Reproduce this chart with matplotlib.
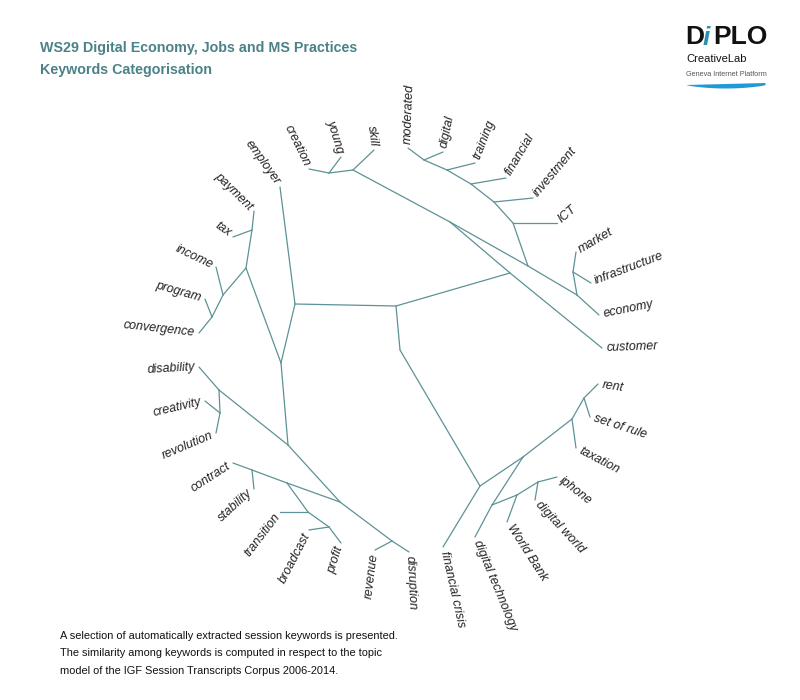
import numpy as np
import matplotlib
matplotlib.use('Agg')
import matplotlib.pyplot as plt

plt.rcParams['font.family'] = ['Liberation Sans', 'DejaVu Sans']

#------------------------------------------------------------------------------
#   Tree data (layout, pixel units)
#------------------------------------------------------------------------------
leaf_names = ['moderated', 'digital', 'training', 'financial', 'investment', 'ICT',
              'market', 'infrastructure', 'economy', 'customer', 'rent', 'set of rule',
              'taxation', 'iphone', 'digital world', 'World Bank', 'digital technology',
              'financial crisis', 'disruption', 'revenue', 'profit', 'broadcast',
              'transition', 'stability', 'contract', 'revolution', 'creativity',
              'disability', 'convergence', 'program', 'income', 'tax', 'payment',
              'employer', 'creation', 'young', 'skill']
leaf_x = [408, 443, 475, 506, 533, 557, 576, 591, 599, 602, 598, 590, 576, 557, 535,
          507, 475, 443, 409, 375, 341, 309, 280, 254, 233, 216, 205, 199, 199, 205,
          216, 233, 254, 280, 309, 341, 374]
leaf_y = [148, 152, 163, 178, 198, 223, 252, 283, 315, 348, 384, 417, 448, 477, 500,
          522, 537, 547, 552, 550, 543, 530, 512, 489, 463, 433, 401, 367, 333, 299,
          267, 237, 211, 187, 169, 157, 150]

node_names = ['A', 'B', 'B2', 'C', 'D', 'S', 'Y', 'F', 'G', 'H', 'M1', 'M2', 'M3', 'M4',
              'M5', 'K', 'P', 'Q', 'R', 'T', 'L', 'U', 'V', 'W', 'X1', 'X2', 'X3', 'X4',
              'Z', 'N1', 'N2', 'N3', 'N4', 'N5', 'N6', 'N7']
node_x = [295, 396, 400, 510, 450, 353, 329, 528, 577, 573, 424, 447, 471, 494, 513,
          281, 246, 252, 223, 212, 288, 219, 220, 340, 252, 287, 308, 329, 392, 480,
          523, 492, 517, 538, 572, 584]
node_y = [304, 306, 350, 273, 222, 170, 173, 266, 295, 272, 160, 170, 184, 202, 223,
          363, 268, 230, 295, 317, 445, 390, 413, 502, 470, 483, 512, 527, 541, 486,
          457, 505, 495, 482, 419, 398]

edges = [('A', 'B'), ('A', 'employer'), ('A', 'K'),
         ('B', 'C'), ('B', 'B2'),
         ('C', 'customer'), ('C', 'D'),
         ('D', 'S'), ('D', 'F'),
         ('S', 'Y'), ('S', 'skill'), ('Y', 'creation'), ('Y', 'young'),
         ('F', 'G'), ('F', 'M5'),
         ('G', 'H'), ('G', 'economy'), ('H', 'market'), ('H', 'infrastructure'),
         ('M5', 'ICT'), ('M5', 'M4'), ('M4', 'investment'), ('M4', 'M3'),
         ('M3', 'financial'), ('M3', 'M2'), ('M2', 'training'), ('M2', 'M1'),
         ('M1', 'moderated'), ('M1', 'digital'),
         ('K', 'P'), ('K', 'L'),
         ('P', 'Q'), ('P', 'R'), ('Q', 'payment'), ('Q', 'tax'),
         ('R', 'income'), ('R', 'T'), ('T', 'program'), ('T', 'convergence'),
         ('L', 'U'), ('L', 'W'), ('U', 'disability'), ('U', 'V'),
         ('V', 'creativity'), ('V', 'revolution'),
         ('W', 'X2'), ('W', 'Z'), ('X2', 'X1'), ('X2', 'X3'),
         ('X1', 'contract'), ('X1', 'stability'),
         ('X3', 'transition'), ('X3', 'X4'), ('X4', 'broadcast'), ('X4', 'profit'),
         ('Z', 'revenue'), ('Z', 'disruption'),
         ('B2', 'N1'), ('N1', 'financial crisis'), ('N1', 'N2'),
         ('N2', 'N6'), ('N2', 'N3'), ('N6', 'taxation'), ('N6', 'N7'),
         ('N7', 'rent'), ('N7', 'set of rule'),
         ('N3', 'digital technology'), ('N3', 'N4'), ('N4', 'World Bank'), ('N4', 'N5'),
         ('N5', 'iphone'), ('N5', 'digital world')]

title_lines = ['WS29 Digital Economy, Jobs and MS Practices', 'Keywords Categorisation']
footer_lines = ['A selection of automatically extracted session keywords is presented.',
                'The similarity among keywords is computed in respect to the topic',
                'model of the IGF Session Transcripts Corpus 2006-2014.']

teal = '#4b8287'
line_col = '#5d9296'

pos = {}
for n, x, y in zip(leaf_names, leaf_x, leaf_y):
    pos[n] = (x, y)
for n, x, y in zip(node_names, node_x, node_y):
    pos[n] = (x, y)

#------------------------------------------------------------------------------
#   Plot
#------------------------------------------------------------------------------
fig = plt.figure(figsize=(8, 7), dpi=100)
ax = fig.add_axes([0, 0, 1, 1])
ax.set_xlim(0, 800)
ax.set_ylim(700, 0)
ax.axis('off')

for a, b in edges:
    ax.plot([pos[a][0], pos[b][0]], [pos[a][1], pos[b][1]], color=line_col, lw=0.9,
            solid_capstyle='round')

# labels point away from the middle of the tree
cx, cy = 400, 355
for n, x, y in zip(leaf_names, leaf_x, leaf_y):
    ang = np.degrees(np.arctan2(-(y - cy), x - cx))
    lx = x + 4 * np.cos(np.radians(ang))
    ly = y - 4 * np.sin(np.radians(ang))
    if -90 < ang <= 90:
        rot, ha = ang, 'left'
    else:
        rot, ha = ang - 180, 'right'
    ax.text(lx, ly, n, rotation=rot, ha=ha, va='center', rotation_mode='anchor',
            fontsize=9, style='italic', color='#222222')

# title
ax.text(40, 48, title_lines[0], fontsize=10.3, fontweight='bold', color=teal, va='center')
ax.text(40, 70, title_lines[1], fontsize=10.3, fontweight='bold', color=teal, va='center')

# footer
for i, t in enumerate(footer_lines):
    ax.text(60, 636 + i * 17.5, t, fontsize=7.9, color='#111111', va='center')

# logo
ax.text(685, 37, 'D', fontsize=19, fontweight='heavy', color='#111111', va='center')
ax.text(703, 38, 'i', fontsize=19, fontweight='bold', style='italic', color='#2a8fb0', va='center')
ax.text(713, 37, 'PLO', fontsize=19, fontweight='heavy', color='#111111', va='center')
ax.text(686, 59, 'CreativeLab', fontsize=8, color='#111111', va='center')
ax.text(686, 74, 'Geneva Internet Platform', fontsize=5.2, color='#555555', va='center')
sx = np.linspace(686, 765, 60)
top = 84.5 - 2.0 * (sx - 686) / 79
bot = 84.5 + 3.5 * np.sin(np.pi * (sx - 686) / 79) ** 0.7
ax.fill_between(sx, top, bot, color='#1f9ad6', lw=0)

fig.savefig('out.png', dpi=100)
